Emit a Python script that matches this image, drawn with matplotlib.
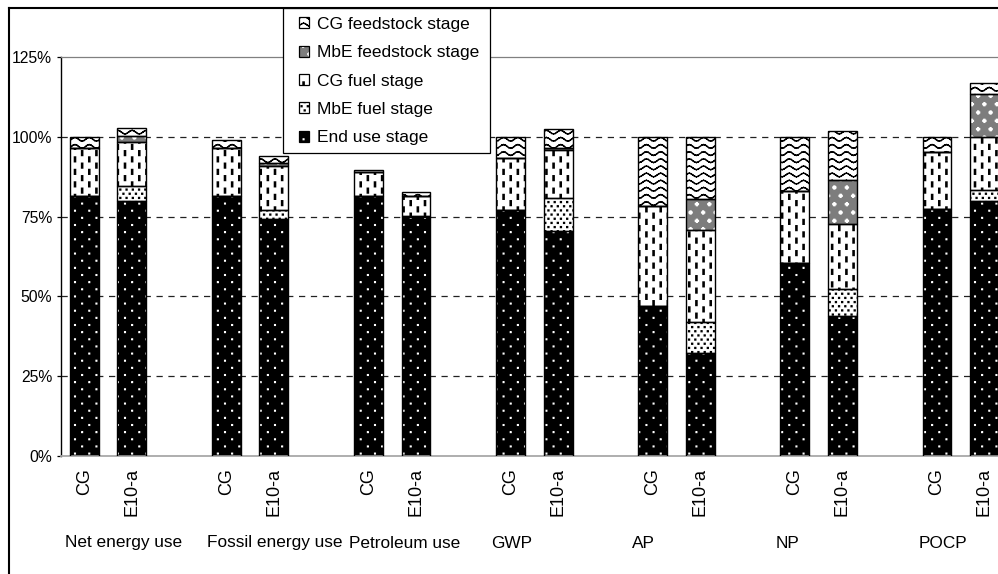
import numpy as np
import matplotlib
matplotlib.use("Agg")
import matplotlib.pyplot as plt
import matplotlib.hatch as mhatch
import matplotlib.transforms as mtransforms
from matplotlib.path import Path
from matplotlib.patches import Patch, Rectangle
from matplotlib.lines import Line2D
from matplotlib.legend_handler import HandlerTuple

# ---------------- data (percent) ----------------
groups = ["Net energy use", "Fossil energy use", "Petroleum use", "GWP", "AP", "NP", "POCP"]
fuels = ["CG", "E10-a"]

end_use_cg = [81.6, 81.6, 81.3, 77.1, 46.9, 60.5, 77.4]
end_use_e10 = [80.0, 74.3, 74.8, 70.6, 32.4, 43.8, 80.0]
mbe_fuel_cg = [0, 0, 0, 0, 0, 0, 0]
mbe_fuel_e10 = [4.7, 2.8, 0.3, 10.2, 9.6, 8.4, 3.4]
cg_fuel_cg = [14.9, 14.9, 7.8, 16.2, 31.4, 22.6, 17.9]
cg_fuel_e10 = [13.8, 13.8, 6.2, 15.0, 28.8, 20.4, 16.4]
mbe_feed_cg = [0, 0, 0, 0, 0, 0, 0]
mbe_feed_e10 = [1.6, 0.8, 0.3, 0.7, 9.7, 14.0, 13.5]
cg_feed_cg = [3.5, 2.6, 0.5, 6.7, 21.7, 16.9, 4.7]
cg_feed_e10 = [2.8, 2.4, 1.0, 5.9, 19.5, 15.2, 3.4]

stage_labels = ["End use stage", "MbE fuel stage", "CG fuel stage",
                "MbE feedstock stage", "CG feedstock stage"]
yticks = [0, 25, 50, 75, 100, 125]

# ---------------- custom hatch textures ----------------
def _rects(centers, w, h):
    n = len(centers)
    v = np.zeros((n * 5, 2))
    c = np.zeros(n * 5, dtype=Path.code_type)
    for k, (cx, cy) in enumerate(centers):
        v[5 * k:5 * k + 5] = [(cx - w / 2, cy - h / 2), (cx + w / 2, cy - h / 2),
                              (cx + w / 2, cy + h / 2), (cx - w / 2, cy + h / 2),
                              (cx - w / 2, cy - h / 2)]
        c[5 * k:5 * k + 5] = [Path.MOVETO, Path.LINETO, Path.LINETO, Path.LINETO, Path.CLOSEPOLY]
    return v, c


def _grid(ncol, nrow):
    pts = []
    for j in range(nrow):
        y = (j + 0.5) / nrow
        off = 0.75 if j % 2 else 0.25
        for i in range(ncol):
            pts.append(((i + off) / ncol, y))
    return pts


def _wave(nper, nrow, amp, seg=8):
    xs = np.linspace(0, 1, nper * seg + 1)
    verts, codes = [], []
    for j in range(nrow):
        y0 = (j + 0.5) / nrow
        ys = y0 + amp * np.sin(2 * np.pi * nper * xs)
        for k in range(len(xs) - 1):
            verts += [(xs[k], ys[k]), (xs[k + 1], ys[k + 1])]
            codes += [Path.MOVETO, Path.LINETO]
    return np.array(verts), np.array(codes, dtype=Path.code_type)


def _plus(centers, L, t):
    v1, c1 = _rects(centers, L, t)
    v2, c2 = _rects(centers, t, L)
    return np.vstack([v1, v2]), np.concatenate([c1, c2])


class _Custom(mhatch.HatchPatternBase):
    char = None

    def __init__(self, hatch, density):
        if hatch.count(self.char) > 0:
            self.v, self.c = self.build()
        else:
            self.v, self.c = np.empty((0, 2)), np.empty(0, dtype=Path.code_type)
        self.num_vertices = len(self.v)

    def set_vertices_and_codes(self, vertices, codes):
        vertices[:] = self.v
        codes[:] = self.c


class WaveHatch(_Custom):
    char = "-"
    def build(self):
        return _wave(7, 14, 0.018)


class DashHatch(_Custom):
    char = "|"
    def build(self):
        return _rects(_grid(7, 16), 0.012, 0.048)


class EndDots(_Custom):
    char = "o"
    def build(self):
        return _rects(_grid(7, 14), 0.007, 0.007)


class Stipple(_Custom):
    char = "."
    def build(self):
        return _rects(_grid(16, 24), 0.009, 0.009)


class Sparkle(_Custom):
    char = "*"
    def build(self):
        return _plus(_grid(8, 12), 0.03, 0.008)


mhatch._hatch_types[:] = [WaveHatch, DashHatch, EndDots, Stipple, Sparkle]

# ---------------- figure ----------------
plt.rcParams["font.family"] = ["Liberation Sans", "DejaVu Sans"]
plt.rcParams["hatch.linewidth"] = 1.0

W, H = 998, 574
fig = plt.figure(figsize=(W / 100, H / 100), dpi=100)
fig.patch.set_facecolor("white")

slot_px = 47.36
x0_px = 60.8
ax = fig.add_axes([x0_px / W, (H - 456) / H, 21 * slot_px / W, 399 / H])
ax.set_xlim(-0.5, 20.5)
ax.set_ylim(0, 125)

ngroups = len(groups)
pos_cg = np.arange(ngroups) * 3
pos_e10 = pos_cg + 1
bw = 0.61

styles = [
    dict(face="black", hc="white", hatch="o"),
    dict(face="white", hc="black", hatch="."),
    dict(face="white", hc="black", hatch="|"),
    dict(face="#7d7d7d", hc="white", hatch="*"),
    dict(face="white", hc="black", hatch="-"),
]
series = {
    "CG": [end_use_cg, mbe_fuel_cg, cg_fuel_cg, mbe_feed_cg, cg_feed_cg],
    "E10-a": [end_use_e10, mbe_fuel_e10, cg_fuel_e10, mbe_feed_e10, cg_feed_e10],
}
positions = {"CG": pos_cg, "E10-a": pos_e10}

for fuel in fuels:
    bottom = np.zeros(ngroups)
    for vals, st in zip(series[fuel], styles):
        vals = np.asarray(vals, dtype=float)
        ax.bar(positions[fuel], vals, width=bw, bottom=bottom, color=st["face"],
               edgecolor=st["hc"], linewidth=0, hatch=st["hatch"], zorder=2)
        ax.bar(positions[fuel], vals, width=bw, bottom=bottom, fill=False,
               edgecolor="black", linewidth=1.0, zorder=3)
        bottom += vals

# grid lines
for yv in yticks[1:-1]:
    ax.axhline(yv, color="#222222", linewidth=0.9, linestyle=(0, (5, 4.5)), zorder=1)

ax.spines["right"].set_visible(False)
ax.spines["top"].set_color("#808080")
ax.spines["top"].set_linewidth(0.9)
ax.spines["bottom"].set_color("#a8a8a8")
ax.spines["bottom"].set_linewidth(1.3)
ax.spines["left"].set_color("black")
ax.spines["left"].set_linewidth(1.0)

ax.set_yticks(yticks)
ax.set_yticklabels([f"{v}%" for v in yticks], fontsize=11.3)
ax.tick_params(axis="y", length=3, width=0.9, pad=3.2, color="black")

xt = np.sort(np.concatenate([pos_cg, pos_e10]))
ax.set_xticks(xt)
ax.set_xticklabels([fuels[int(p) % 3] for p in xt], rotation=90, fontsize=13, va="top")
ax.tick_params(axis="x", length=0, pad=8.5)

# group labels
label_x = [0.82, 4.02, 6.77, 9.02, 11.81, 14.84, 18.12]
trans = mtransforms.blended_transform_factory(ax.transData, fig.transFigure)
for g, lx in zip(groups, label_x):
    ax.text(lx, 1 - 543 / H, g, transform=trans, ha="center", va="center",
            fontsize=12.4, clip_on=False)

# outer frame
fig.add_artist(Line2D([9 / W, 9 / W], [0, 1 - 8 / H], color="black", linewidth=1.5,
                      transform=fig.transFigure, zorder=4))
fig.add_artist(Line2D([9 / W, 1], [1 - 8 / H, 1 - 8 / H], color="black", linewidth=1.5,
                      transform=fig.transFigure, zorder=4))

# legend box
fig.add_artist(Rectangle((283 / W, 1 - 153 / H), 207 / W, 145 / H, facecolor="white",
                         edgecolor="black", linewidth=0.9, transform=fig.transFigure,
                         zorder=3))

handles = []
for st in styles:
    h1 = Patch(facecolor=st["face"], edgecolor=st["hc"], linewidth=0, hatch=st["hatch"])
    h2 = Patch(fill=False, edgecolor="black", linewidth=0.9)
    handles.append((h1, h2))
handles = handles[::-1]
labels = stage_labels[::-1]
leg = fig.legend(handles, labels, loc="upper left",
                 bbox_to_anchor=(299 / W, 1 - 17 / H), bbox_transform=fig.transFigure,
                 frameon=False, fontsize=12.5, handlelength=0.6, handleheight=0.6,
                 handletextpad=0.45, labelspacing=0.77, borderpad=0, borderaxespad=0,
                 handler_map={tuple: HandlerTuple(ndivide=1, pad=0)})
leg.set_zorder(5)

fig.savefig("out.png", dpi=100, facecolor="white")
